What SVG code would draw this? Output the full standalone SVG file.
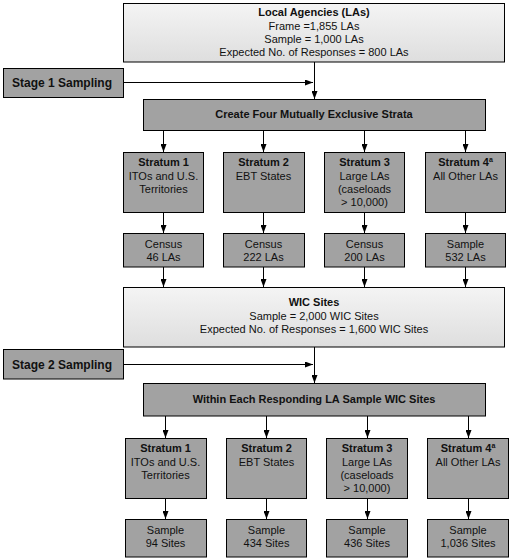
<svg xmlns="http://www.w3.org/2000/svg" width="511" height="559" viewBox="0 0 511 559">
<defs>
<linearGradient id="lg" x1="0" y1="0" x2="0" y2="1">
<stop offset="0" stop-color="#f4f4f4"/>
<stop offset="1" stop-color="#dedede"/>
</linearGradient>
<marker id="ah" markerWidth="8" markerHeight="6" refX="8" refY="3" orient="auto" markerUnits="userSpaceOnUse">
<path d="M0,0 L8,3 L0,6 Z" fill="#000"/>
</marker>
<style>
.light{fill:url(#lg);stroke:#000;stroke-width:1}
.dark{fill:#a2a2a2;stroke:#000;stroke-width:1}
text{font-family:"Liberation Sans",Arial,sans-serif;font-size:11px;fill:#111;text-anchor:middle}
.b{font-weight:bold}
.big{font-weight:bold;font-size:12px}
.sup{font-size:7px}
.c{stroke:#000;stroke-width:1;fill:none;marker-end:url(#ah)}
</style>
</defs>
<rect width="511" height="559" fill="#fff"/>

<g id="connectors">
<path class="c" d="M123.5,82.5 H313"/>
<path class="c" d="M314.5,62 V99"/>
<path class="c" d="M163.5,130 V152"/>
<path class="c" d="M263.5,130 V152"/>
<path class="c" d="M364.5,130 V152"/>
<path class="c" d="M465.5,130 V152"/>
<path class="c" d="M163.5,212 V233"/>
<path class="c" d="M263.5,212 V233"/>
<path class="c" d="M364.5,212 V233"/>
<path class="c" d="M465.5,212 V233"/>
<path class="c" d="M163.5,267 V287"/>
<path class="c" d="M263.5,267 V287"/>
<path class="c" d="M364.5,267 V287"/>
<path class="c" d="M465.5,267 V287"/>
<path class="c" d="M123.5,364.5 H313"/>
<path class="c" d="M314.5,347 V383"/>
<path class="c" d="M165.5,416 V438"/>
<path class="c" d="M266.5,416 V438"/>
<path class="c" d="M367.5,416 V438"/>
<path class="c" d="M468.5,416 V438"/>
<path class="c" d="M165.5,498 V519"/>
<path class="c" d="M266.5,498 V519"/>
<path class="c" d="M367.5,498 V519"/>
<path class="c" d="M468.5,498 V519"/>
</g>

<g id="local-agencies">
<rect class="light" x="123.5" y="3.5" width="381" height="58.5"/>
<text x="314" y="16" class="b">Local Agencies (LAs)</text>
<text x="314" y="29.5">Frame =1,855 LAs</text>
<text x="314" y="43">Sample = 1,000 LAs</text>
<text x="314" y="56">Expected No. of Responses = 800 LAs</text>
</g>

<g id="stage1">
<rect class="dark" x="3.5" y="68.5" width="120" height="29"/>
<text x="62" y="87" class="big">Stage 1 Sampling</text>
</g>

<g id="create-strata">
<rect class="dark" x="143.5" y="99.5" width="342" height="31"/>
<text x="314" y="118" class="b">Create Four Mutually Exclusive Strata</text>
</g>

<g id="s1-stratum1">
<rect class="dark" x="123.5" y="152.5" width="80" height="60"/>
<text x="163.5" y="166" class="b">Stratum 1</text>
<text x="163.5" y="179.5">ITOs and U.S.</text>
<text x="163.5" y="193">Territories</text>
</g>
<g id="s1-stratum2">
<rect class="dark" x="223.5" y="152.5" width="81" height="60"/>
<text x="263.5" y="166" class="b">Stratum 2</text>
<text x="263.5" y="179.5">EBT States</text>
</g>
<g id="s1-stratum3">
<rect class="dark" x="324.5" y="152.5" width="80" height="60"/>
<text x="364.5" y="166" class="b">Stratum 3</text>
<text x="364.5" y="179.5">Large LAs</text>
<text x="364.5" y="193">(caseloads</text>
<text x="364.5" y="206">&gt; 10,000)</text>
</g>
<g id="s1-stratum4">
<rect class="dark" x="425.5" y="152.5" width="80" height="60"/>
<text x="465.5" y="166" class="b">Stratum 4<tspan class="sup" dy="-4">a</tspan></text>
<text x="465.5" y="179.5">All Other LAs</text>
</g>

<g id="census1">
<rect class="dark" x="123.5" y="233.5" width="80" height="33.5"/>
<text x="163.5" y="248">Census</text>
<text x="163.5" y="261">46 LAs</text>
</g>
<g id="census2">
<rect class="dark" x="223.5" y="233.5" width="81" height="33.5"/>
<text x="263.5" y="248">Census</text>
<text x="263.5" y="261">222 LAs</text>
</g>
<g id="census3">
<rect class="dark" x="324.5" y="233.5" width="80" height="33.5"/>
<text x="364.5" y="248">Census</text>
<text x="364.5" y="261">200 LAs</text>
</g>
<g id="sample4">
<rect class="dark" x="425.5" y="233.5" width="80" height="33.5"/>
<text x="465.5" y="248">Sample</text>
<text x="465.5" y="261">532 LAs</text>
</g>

<g id="wic-sites">
<rect class="light" x="123.5" y="287.5" width="381" height="59.5"/>
<text x="314" y="306" class="b">WIC Sites</text>
<text x="314" y="319.5">Sample = 2,000 WIC Sites</text>
<text x="314" y="333">Expected No. of Responses = 1,600 WIC Sites</text>
</g>

<g id="stage2">
<rect class="dark" x="3.5" y="349.5" width="120" height="29.5"/>
<text x="62" y="368.5" class="big">Stage 2 Sampling</text>
</g>

<g id="within-la">
<rect class="dark" x="143.5" y="383.5" width="342" height="32.5"/>
<text x="314" y="403" class="b">Within Each Responding LA Sample WIC Sites</text>
</g>

<g id="s2-stratum1">
<rect class="dark" x="125.5" y="438.5" width="81" height="60"/>
<text x="165.5" y="452" class="b">Stratum 1</text>
<text x="165.5" y="466">ITOs and U.S.</text>
<text x="165.5" y="479">Territories</text>
</g>
<g id="s2-stratum2">
<rect class="dark" x="226.5" y="438.5" width="80" height="60"/>
<text x="266.5" y="452" class="b">Stratum 2</text>
<text x="266.5" y="466">EBT States</text>
</g>
<g id="s2-stratum3">
<rect class="dark" x="326.5" y="438.5" width="81" height="60"/>
<text x="367" y="452" class="b">Stratum 3</text>
<text x="367" y="466">Large LAs</text>
<text x="367" y="479">(caseloads</text>
<text x="367" y="492">&gt; 10,000)</text>
</g>
<g id="s2-stratum4">
<rect class="dark" x="427.5" y="438.5" width="81" height="60"/>
<text x="468" y="452" class="b">Stratum 4<tspan class="sup" dy="-4">a</tspan></text>
<text x="468" y="466">All Other LAs</text>
</g>

<g id="sites1">
<rect class="dark" x="125.5" y="519.5" width="81" height="37.5"/>
<text x="165.5" y="534">Sample</text>
<text x="165.5" y="547">94 Sites</text>
</g>
<g id="sites2">
<rect class="dark" x="226.5" y="519.5" width="80" height="37.5"/>
<text x="266.5" y="534">Sample</text>
<text x="266.5" y="547">434 Sites</text>
</g>
<g id="sites3">
<rect class="dark" x="326.5" y="519.5" width="81" height="37.5"/>
<text x="367" y="534">Sample</text>
<text x="367" y="547">436 Sites</text>
</g>
<g id="sites4">
<rect class="dark" x="427.5" y="519.5" width="81" height="37.5"/>
<text x="468" y="534">Sample</text>
<text x="468" y="547">1,036 Sites</text>
</g>
</svg>
